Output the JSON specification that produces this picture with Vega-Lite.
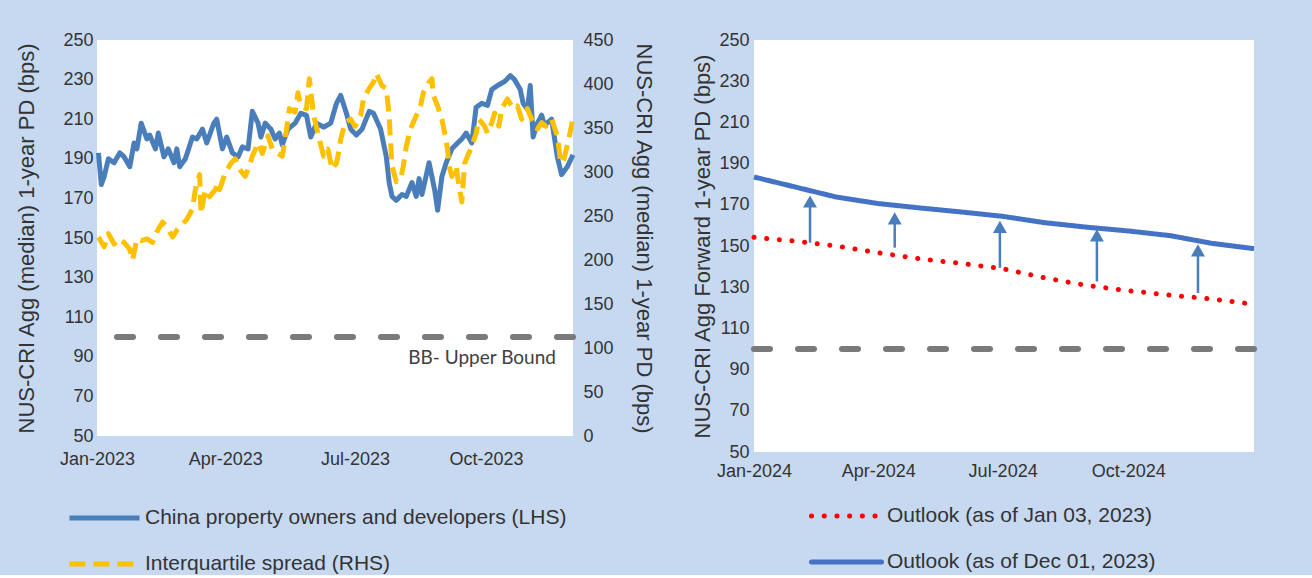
{
  "$schema": "https://vega.github.io/schema/vega-lite/v6.json",
  "background": "#c6d9f1",
  "padding": {"left": 15, "top": 31, "right": 64, "bottom": 0},
  "config": {
    "view": {"fill": "white", "stroke": null},
    "font": "Liberation Sans",
    "axis": {"grid": false, "domain": false, "ticks": false, "labelFontSize": 18, "labelColor": "#333333", "titleFontSize": 22, "titleFontWeight": "normal", "titleColor": "#333333", "labelOverlap": false, "labelFlush": false},
    "legend": {"orient": "none", "direction": "vertical", "symbolType": "stroke", "symbolSize": 4900, "symbolStrokeWidth": 5, "labelFontSize": 21, "labelColor": "#333333", "rowPadding": 24, "clipHeight": 22, "labelOffset": 3, "labelLimit": 0, "title": null}
  },
  "datasets": {
    "lhs": [
      {"date": "2023-01-02", "pd": 193}, {"date": "2023-01-04", "pd": 177}, {"date": "2023-01-06", "pd": 181}, {"date": "2023-01-09", "pd": 190},
      {"date": "2023-01-13", "pd": 188}, {"date": "2023-01-17", "pd": 193}, {"date": "2023-01-20", "pd": 191}, {"date": "2023-01-24", "pd": 186},
      {"date": "2023-01-27", "pd": 198}, {"date": "2023-01-29", "pd": 195}, {"date": "2023-02-01", "pd": 208}, {"date": "2023-02-05", "pd": 200},
      {"date": "2023-02-07", "pd": 202}, {"date": "2023-02-11", "pd": 195}, {"date": "2023-02-13", "pd": 203}, {"date": "2023-02-17", "pd": 191},
      {"date": "2023-02-20", "pd": 195}, {"date": "2023-02-24", "pd": 188}, {"date": "2023-02-26", "pd": 195}, {"date": "2023-02-28", "pd": 186},
      {"date": "2023-03-04", "pd": 190}, {"date": "2023-03-09", "pd": 201}, {"date": "2023-03-12", "pd": 200}, {"date": "2023-03-16", "pd": 205},
      {"date": "2023-03-19", "pd": 198}, {"date": "2023-03-24", "pd": 208}, {"date": "2023-03-26", "pd": 210}, {"date": "2023-03-30", "pd": 195},
      {"date": "2023-04-02", "pd": 201}, {"date": "2023-04-06", "pd": 193}, {"date": "2023-04-10", "pd": 191}, {"date": "2023-04-13", "pd": 196},
      {"date": "2023-04-17", "pd": 195}, {"date": "2023-04-20", "pd": 214}, {"date": "2023-04-24", "pd": 208}, {"date": "2023-04-26", "pd": 201},
      {"date": "2023-04-29", "pd": 208}, {"date": "2023-05-03", "pd": 205}, {"date": "2023-05-06", "pd": 200}, {"date": "2023-05-09", "pd": 203},
      {"date": "2023-05-11", "pd": 197}, {"date": "2023-05-15", "pd": 205}, {"date": "2023-05-20", "pd": 208}, {"date": "2023-05-24", "pd": 213},
      {"date": "2023-05-28", "pd": 212}, {"date": "2023-05-31", "pd": 201}, {"date": "2023-06-04", "pd": 208}, {"date": "2023-06-09", "pd": 206},
      {"date": "2023-06-14", "pd": 208}, {"date": "2023-06-18", "pd": 218}, {"date": "2023-06-21", "pd": 222}, {"date": "2023-06-25", "pd": 213},
      {"date": "2023-06-28", "pd": 205}, {"date": "2023-07-02", "pd": 202}, {"date": "2023-07-06", "pd": 205}, {"date": "2023-07-11", "pd": 214},
      {"date": "2023-07-14", "pd": 213}, {"date": "2023-07-19", "pd": 205}, {"date": "2023-07-23", "pd": 191}, {"date": "2023-07-25", "pd": 178},
      {"date": "2023-07-27", "pd": 171}, {"date": "2023-07-30", "pd": 169}, {"date": "2023-08-03", "pd": 172}, {"date": "2023-08-06", "pd": 171},
      {"date": "2023-08-10", "pd": 178}, {"date": "2023-08-13", "pd": 171}, {"date": "2023-08-15", "pd": 180}, {"date": "2023-08-17", "pd": 172},
      {"date": "2023-08-22", "pd": 188}, {"date": "2023-08-26", "pd": 174}, {"date": "2023-08-28", "pd": 164}, {"date": "2023-08-31", "pd": 181},
      {"date": "2023-09-03", "pd": 188}, {"date": "2023-09-07", "pd": 195}, {"date": "2023-09-11", "pd": 198}, {"date": "2023-09-14", "pd": 200},
      {"date": "2023-09-17", "pd": 203}, {"date": "2023-09-21", "pd": 198}, {"date": "2023-09-24", "pd": 216}, {"date": "2023-09-28", "pd": 218},
      {"date": "2023-10-02", "pd": 217}, {"date": "2023-10-05", "pd": 225}, {"date": "2023-10-09", "pd": 227}, {"date": "2023-10-14", "pd": 229},
      {"date": "2023-10-18", "pd": 232}, {"date": "2023-10-21", "pd": 230}, {"date": "2023-10-25", "pd": 225}, {"date": "2023-10-27", "pd": 218},
      {"date": "2023-10-30", "pd": 215}, {"date": "2023-11-01", "pd": 227}, {"date": "2023-11-03", "pd": 201}, {"date": "2023-11-06", "pd": 208},
      {"date": "2023-11-09", "pd": 212}, {"date": "2023-11-11", "pd": 207}, {"date": "2023-11-16", "pd": 210}, {"date": "2023-11-20", "pd": 191},
      {"date": "2023-11-23", "pd": 182}, {"date": "2023-11-27", "pd": 186}, {"date": "2023-12-01", "pd": 192}
    ],
    "rhs": [
      {"date": "2023-01-02", "iqr": 226}, {"date": "2023-01-06", "iqr": 215}, {"date": "2023-01-09", "iqr": 230}, {"date": "2023-01-13", "iqr": 218},
      {"date": "2023-01-16", "iqr": 224}, {"date": "2023-01-20", "iqr": 220}, {"date": "2023-01-24", "iqr": 212}, {"date": "2023-01-26", "iqr": 200},
      {"date": "2023-01-29", "iqr": 224}, {"date": "2023-02-01", "iqr": 222}, {"date": "2023-02-05", "iqr": 224}, {"date": "2023-02-09", "iqr": 220},
      {"date": "2023-02-12", "iqr": 232}, {"date": "2023-02-16", "iqr": 243}, {"date": "2023-02-19", "iqr": 238}, {"date": "2023-02-23", "iqr": 226},
      {"date": "2023-02-26", "iqr": 234}, {"date": "2023-03-02", "iqr": 241}, {"date": "2023-03-05", "iqr": 246}, {"date": "2023-03-09", "iqr": 258},
      {"date": "2023-03-11", "iqr": 280}, {"date": "2023-03-14", "iqr": 297}, {"date": "2023-03-15", "iqr": 253}, {"date": "2023-03-18", "iqr": 280},
      {"date": "2023-03-21", "iqr": 272}, {"date": "2023-03-25", "iqr": 280}, {"date": "2023-03-27", "iqr": 287}, {"date": "2023-03-28", "iqr": 280},
      {"date": "2023-04-01", "iqr": 299}, {"date": "2023-04-05", "iqr": 310}, {"date": "2023-04-08", "iqr": 315}, {"date": "2023-04-11", "iqr": 303},
      {"date": "2023-04-15", "iqr": 295}, {"date": "2023-04-18", "iqr": 307}, {"date": "2023-04-20", "iqr": 318}, {"date": "2023-04-24", "iqr": 333},
      {"date": "2023-04-27", "iqr": 321}, {"date": "2023-05-01", "iqr": 341}, {"date": "2023-05-04", "iqr": 326}, {"date": "2023-05-08", "iqr": 321},
      {"date": "2023-05-11", "iqr": 318}, {"date": "2023-05-13", "iqr": 337}, {"date": "2023-05-16", "iqr": 372}, {"date": "2023-05-20", "iqr": 368},
      {"date": "2023-05-22", "iqr": 390}, {"date": "2023-05-24", "iqr": 375}, {"date": "2023-05-28", "iqr": 372}, {"date": "2023-05-30", "iqr": 406},
      {"date": "2023-06-02", "iqr": 364}, {"date": "2023-06-05", "iqr": 344}, {"date": "2023-06-09", "iqr": 318}, {"date": "2023-06-12", "iqr": 326},
      {"date": "2023-06-15", "iqr": 303}, {"date": "2023-06-18", "iqr": 310}, {"date": "2023-06-19", "iqr": 318}, {"date": "2023-06-21", "iqr": 337},
      {"date": "2023-06-24", "iqr": 356}, {"date": "2023-06-28", "iqr": 360}, {"date": "2023-07-01", "iqr": 352}, {"date": "2023-07-05", "iqr": 364},
      {"date": "2023-07-07", "iqr": 383}, {"date": "2023-07-11", "iqr": 395}, {"date": "2023-07-14", "iqr": 402}, {"date": "2023-07-16", "iqr": 412},
      {"date": "2023-07-20", "iqr": 398}, {"date": "2023-07-23", "iqr": 395}, {"date": "2023-07-25", "iqr": 364}, {"date": "2023-07-26", "iqr": 333},
      {"date": "2023-07-27", "iqr": 307}, {"date": "2023-07-30", "iqr": 289}, {"date": "2023-08-02", "iqr": 292}, {"date": "2023-08-04", "iqr": 307},
      {"date": "2023-08-06", "iqr": 329}, {"date": "2023-08-09", "iqr": 349}, {"date": "2023-08-13", "iqr": 364}, {"date": "2023-08-16", "iqr": 375},
      {"date": "2023-08-18", "iqr": 390}, {"date": "2023-08-22", "iqr": 402}, {"date": "2023-08-24", "iqr": 406}, {"date": "2023-08-25", "iqr": 387},
      {"date": "2023-08-28", "iqr": 375}, {"date": "2023-08-31", "iqr": 360}, {"date": "2023-09-02", "iqr": 344}, {"date": "2023-09-04", "iqr": 326},
      {"date": "2023-09-05", "iqr": 307}, {"date": "2023-09-07", "iqr": 295}, {"date": "2023-09-10", "iqr": 307}, {"date": "2023-09-12", "iqr": 284},
      {"date": "2023-09-14", "iqr": 266}, {"date": "2023-09-16", "iqr": 310}, {"date": "2023-09-18", "iqr": 318}, {"date": "2023-09-21", "iqr": 329},
      {"date": "2023-09-24", "iqr": 344}, {"date": "2023-09-26", "iqr": 360}, {"date": "2023-09-30", "iqr": 352}, {"date": "2023-10-02", "iqr": 344},
      {"date": "2023-10-05", "iqr": 356}, {"date": "2023-10-07", "iqr": 367}, {"date": "2023-10-10", "iqr": 352}, {"date": "2023-10-12", "iqr": 372},
      {"date": "2023-10-16", "iqr": 383}, {"date": "2023-10-20", "iqr": 372}, {"date": "2023-10-23", "iqr": 375}, {"date": "2023-10-26", "iqr": 360},
      {"date": "2023-10-30", "iqr": 372}, {"date": "2023-11-02", "iqr": 360}, {"date": "2023-11-06", "iqr": 349}, {"date": "2023-11-09", "iqr": 356},
      {"date": "2023-11-12", "iqr": 352}, {"date": "2023-11-16", "iqr": 360}, {"date": "2023-11-20", "iqr": 341}, {"date": "2023-11-22", "iqr": 315},
      {"date": "2023-11-24", "iqr": 310}, {"date": "2023-11-28", "iqr": 337}, {"date": "2023-12-01", "iqr": 362}
    ],
    "bound2023": [{"date": "2023-11-19", "level": 100, "labelY": 89.5, "label": "BB- Upper Bound"}],
    "bound2024": [{"level": 100}],
    "fwd": [
      {"date": "2024-01-01", "dec": 183.5, "jan": 154.2}, {"date": "2024-02-01", "dec": 178.5, "jan": 152.3},
      {"date": "2024-03-01", "dec": 173.8, "jan": 150.0}, {"date": "2024-04-01", "dec": 170.6, "jan": 146.7},
      {"date": "2024-05-01", "dec": 168.5, "jan": 143.8}, {"date": "2024-06-01", "dec": 166.5, "jan": 141.5},
      {"date": "2024-07-01", "dec": 164.4, "jan": 139.0}, {"date": "2024-08-01", "dec": 161.3, "jan": 134.5},
      {"date": "2024-09-01", "dec": 159.1, "jan": 130.8}, {"date": "2024-10-01", "dec": 157.3, "jan": 128.3},
      {"date": "2024-11-01", "dec": 155.0, "jan": 126.1}, {"date": "2024-12-01", "dec": 151.3, "jan": 124.3},
      {"date": "2025-01-01", "dec": 148.7, "jan": 121.7}
    ],
    "arrows": [
      {"date": "2024-02-11", "from": 151.6, "to": 174.5},
      {"date": "2024-04-13", "from": 149.2, "to": 166.3},
      {"date": "2024-06-29", "from": 139.4, "to": 162.2},
      {"date": "2024-09-08", "from": 132.8, "to": 158.1},
      {"date": "2024-11-21", "from": 127.2, "to": 150.8}
    ]
  },
  "spacing": 36,
  "resolve": {"scale": {"color": "independent", "strokeDash": "independent"}, "legend": {"color": "independent", "strokeDash": "independent"}},
  "hconcat": [
    {
      "width": 476,
      "height": 396,
      "resolve": {"scale": {"y": "independent"}},
      "layer": [
        {
          "layer": [
            {
              "data": {"name": "lhs"},
              "mark": {"type": "line", "strokeWidth": 5, "strokeJoin": "round"},
              "encoding": {
                "x": {"field": "date", "type": "temporal",
                  "scale": {"domain": ["2023-01-01", "2023-12-01"]},
                  "axis": {"title": null, "format": "%b-%Y", "labelPadding": 14,
                    "values": [{"year": 2023, "month": 1, "date": 1}, {"year": 2023, "month": 4, "date": 1}, {"year": 2023, "month": 7, "date": 1}, {"year": 2023, "month": 10, "date": 1}]}},
                "y": {"field": "pd", "type": "quantitative", "scale": {"domain": [50, 250], "nice": false, "zero": false},
                  "axis": {"title": "NUS-CRI Agg (median) 1-year PD (bps)", "values": [50, 70, 90, 110, 130, 150, 170, 190, 210, 230, 250], "labelOverlap": false, "labelPadding": 4, "titlePadding": 24}},
                "color": {"datum": "China property owners and developers (LHS)", "type": "nominal",
                  "scale": {"domain": ["China property owners and developers (LHS)", "Interquartile spread (RHS)"], "range": ["#4a7ebb", "#ffc000"]},
                  "legend": {"legendX": -30, "legendY": 467}},
                "strokeDash": {"datum": "China property owners and developers (LHS)", "type": "nominal",
                  "scale": {"domain": ["China property owners and developers (LHS)", "Interquartile spread (RHS)"], "range": [[1, 0], [16, 8]]},
                  "legend": {"legendX": -30, "legendY": 467}}
              }
            },
            {
              "data": {"name": "bound2023"},
              "mark": {"type": "rule", "strokeDash": [16, 28], "strokeWidth": 6, "color": "#7a7a7a", "strokeCap": "round"},
              "encoding": {"y": {"field": "level", "type": "quantitative", "scale": {"domain": [50, 250], "nice": false, "zero": false},
                "axis": {"title": "NUS-CRI Agg (median) 1-year PD (bps)", "values": [50, 70, 90, 110, 130, 150, 170, 190, 210, 230, 250], "labelOverlap": false, "labelPadding": 4, "titlePadding": 24}}}
            },
            {
              "data": {"name": "bound2023"},
              "mark": {"type": "text", "align": "right", "baseline": "middle", "font": "Lato", "fontSize": 19, "color": "#404040"},
              "encoding": {"x": {"field": "date", "type": "temporal"},
                "y": {"field": "labelY", "type": "quantitative", "scale": {"domain": [50, 250], "nice": false, "zero": false},
                  "axis": {"title": "NUS-CRI Agg (median) 1-year PD (bps)", "values": [50, 70, 90, 110, 130, 150, 170, 190, 210, 230, 250], "labelOverlap": false, "labelPadding": 4, "titlePadding": 24}},
                "text": {"field": "label"}}
            }
          ]
        },
        {
          "data": {"name": "rhs"},
          "mark": {"type": "line", "strokeWidth": 5, "strokeJoin": "round"},
          "encoding": {
            "x": {"field": "date", "type": "temporal"},
            "y": {"field": "iqr", "type": "quantitative", "scale": {"domain": [0, 450], "nice": false, "zero": false},
              "axis": {"orient": "right", "title": "NUS-CRI Agg (median) 1-year PD (bps)", "values": [0, 50, 100, 150, 200, 250, 300, 350, 400, 450], "labelOverlap": false, "labelPadding": 10, "titlePadding": 18}},
            "color": {"datum": "Interquartile spread (RHS)", "type": "nominal"},
            "strokeDash": {"datum": "Interquartile spread (RHS)", "type": "nominal"}
          }
        }
      ]
    },
    {
      "width": 500,
      "height": 412,
      "layer": [
        {
          "data": {"name": "bound2024"},
          "mark": {"type": "rule", "strokeDash": [16, 28], "strokeWidth": 6, "color": "#7a7a7a", "strokeCap": "round"},
          "encoding": {"y": {"field": "level", "type": "quantitative", "scale": {"domain": [50, 250], "nice": false, "zero": false}}}
        },
        {
          "data": {"name": "fwd"},
          "mark": {"type": "line", "strokeWidth": 5, "strokeCap": "round"},
          "encoding": {
            "x": {"field": "date", "type": "temporal",
              "scale": {"domain": ["2024-01-01", "2025-01-01"]},
              "axis": {"title": null, "format": "%b-%Y", "labelPadding": 10,
                "values": [{"year": 2024, "month": 1, "date": 1}, {"year": 2024, "month": 4, "date": 1}, {"year": 2024, "month": 7, "date": 1}, {"year": 2024, "month": 10, "date": 1}]}},
            "y": {"field": "jan", "type": "quantitative", "scale": {"domain": [50, 250], "nice": false, "zero": false},
              "axis": {"title": "NUS-CRI Agg Forward 1-year PD (bps)", "values": [50, 70, 90, 110, 130, 150, 170, 190, 210, 230, 250], "labelOverlap": false, "labelPadding": 5, "titlePadding": 4}},
            "color": {"datum": "Outlook (as of Jan 03, 2023)", "type": "nominal",
              "scale": {"domain": ["Outlook (as of Jan 03, 2023)", "Outlook (as of Dec 01, 2023)"], "range": ["#ff0000", "#4472c4"]},
              "legend": {"legendX": 55, "legendY": 465, "encode": {"symbols": {"update": {"strokeCap": {"value": "round"}}}}}},
            "strokeDash": {"datum": "Outlook (as of Jan 03, 2023)", "type": "nominal",
              "scale": {"domain": ["Outlook (as of Jan 03, 2023)", "Outlook (as of Dec 01, 2023)"], "range": [[0.1, 12.6], [1, 0]]},
              "legend": {"legendX": 55, "legendY": 465, "encode": {"symbols": {"update": {"strokeCap": {"value": "round"}}}}}}
          }
        },
        {
          "data": {"name": "fwd"},
          "mark": {"type": "line", "strokeWidth": 5},
          "encoding": {
            "x": {"field": "date", "type": "temporal"},
            "y": {"field": "dec", "type": "quantitative", "scale": {"domain": [50, 250], "nice": false, "zero": false}},
            "color": {"datum": "Outlook (as of Dec 01, 2023)", "type": "nominal"},
            "strokeDash": {"datum": "Outlook (as of Dec 01, 2023)", "type": "nominal"}
          }
        },
        {
          "data": {"name": "arrows"},
          "mark": {"type": "rule", "strokeWidth": 2.5, "color": "#4a7ebb", "y2Offset": 6},
          "encoding": {
            "x": {"field": "date", "type": "temporal"},
            "y": {"field": "from", "type": "quantitative", "scale": {"domain": [50, 250], "nice": false, "zero": false}},
            "y2": {"field": "to"}
          }
        },
        {
          "data": {"name": "arrows"},
          "mark": {"type": "point", "shape": "triangle-up", "filled": true, "size": 196, "opacity": 1, "color": "#4a7ebb", "yOffset": 6},
          "encoding": {
            "x": {"field": "date", "type": "temporal"},
            "y": {"field": "to", "type": "quantitative", "scale": {"domain": [50, 250], "nice": false, "zero": false}}
          }
        }
      ]
    }
  ]
}
